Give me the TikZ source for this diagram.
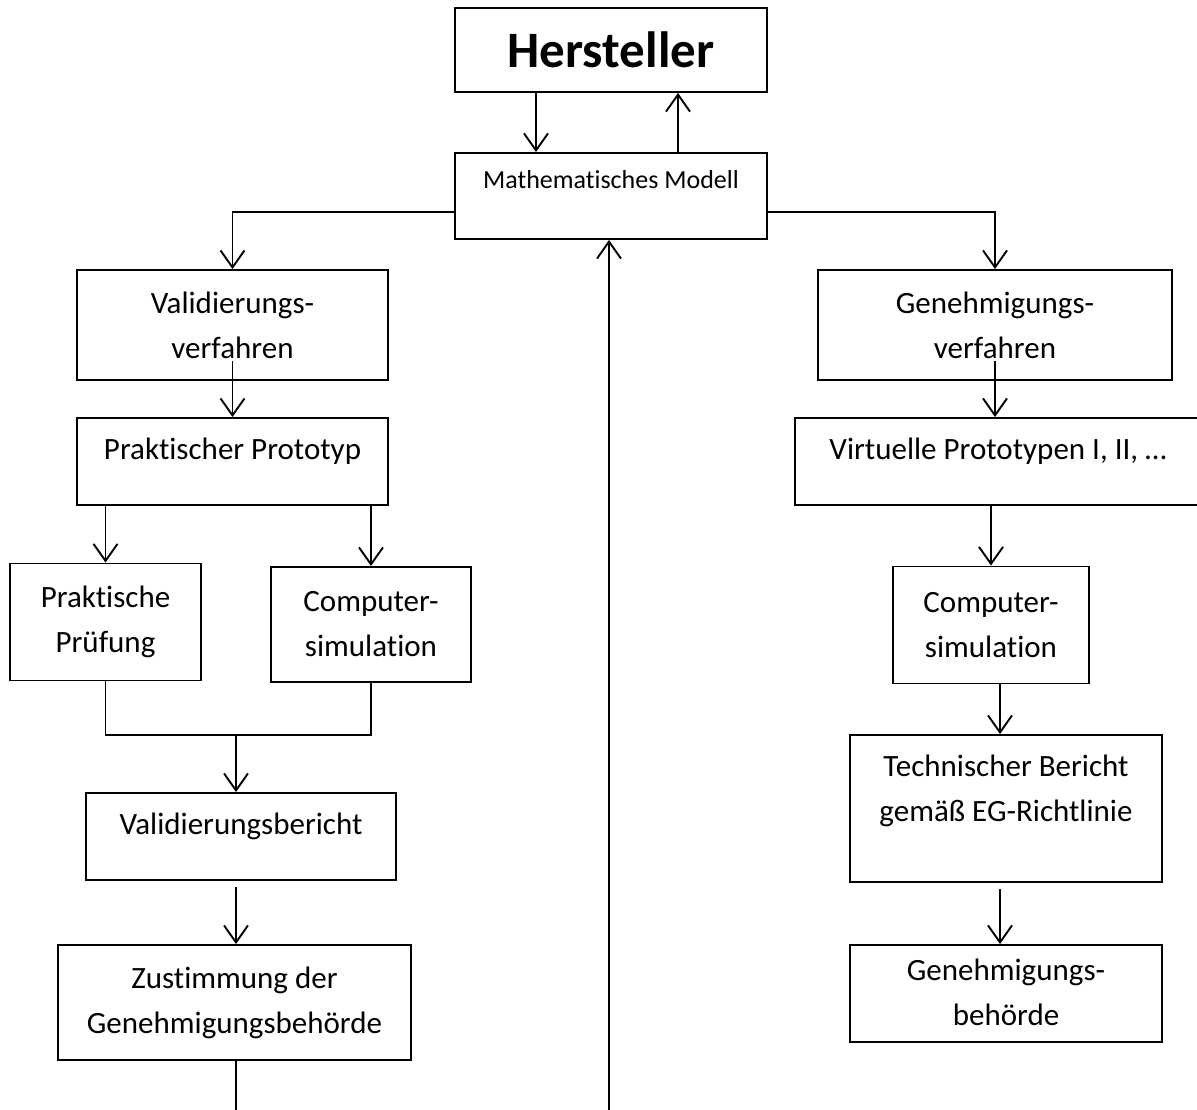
\documentclass[tikz,border=0pt]{standalone}
\usepackage{fontspec}
\setmainfont{Carlito}[Ligatures=NoCommon]
\usetikzlibrary{arrows.meta,positioning,calc}

\begin{document}
\begin{tikzpicture}[x=1pt,y=-1pt,line width=1.9pt,
  every node/.style={font=\fontsize{31}{45}\selectfont},
  blk/.style={draw,line width=1.9pt,align=center,inner sep=0pt},
  flow/.style={-{Straight Barb[length=17pt,width=24pt]}}]
\clip (0,0) rectangle (1197,1110);
\node[blk,minimum width=312,minimum height=84,font=\fontsize{51}{60}\selectfont\bfseries] (herst) at (611,50) {Hersteller};
\node[blk,minimum width=312,minimum height=86,text depth=33,font=\fontsize{26}{32}\selectfont] (model) at (611,196) {Mathematisches Modell};
\node[blk,minimum width=311,minimum height=110] (valid) at (232.5,325) {Validierungs-\\verfahren};
\node[blk,minimum width=311,minimum height=87,text depth=25] (proto) at (232.5,461.5) {Praktischer Prototyp};
\node[blk,minimum width=191,minimum height=117] (pruef) at (105.5,622) {Praktische\\Prüfung};
\node[blk,minimum width=200,minimum height=115] (csimL) at (371,624.5) {Computer-\\simulation};
\node[blk,minimum width=310,minimum height=87,text depth=25] (vber) at (241,836.5) {Validierungsbericht};
\node[blk,minimum width=353,minimum height=115] (zust) at (234.5,1002.5) {Zustimmung der\\Genehmigungsbehörde};
\node[blk,minimum width=354,minimum height=110] (genv) at (995,325) {Genehmigungs-\\verfahren};
\node[blk,minimum width=406,minimum height=87,text depth=25] (virt) at (998,461.5) {Virtuelle Prototypen I, II, …};
\node[blk,minimum width=196,minimum height=117] (csimR) at (991,625) {Computer-\\simulation};
\node[blk,minimum width=312,minimum height=147,text depth=40] (tech) at (1006,808.5) {Technischer Bericht\\gemäß EG-Richtlinie};
\node[blk,minimum width=312,minimum height=97,text depth=2] (gbeh) at (1006,993.5) {Genehmigungs-\\behörde};
\coordinate (join) at (236,735);
\coordinate (out) at (236,1110);
\coordinate (back) at (609,1110);
% top
\draw[flow] ([xshift=-75pt]herst.south) -- ([xshift=-75pt]model.north);
\draw[flow] ([xshift=67pt]model.north) -- ([xshift=67pt]herst.south);
\draw[flow] ([yshift=-16pt]model.west) -| (valid.north);
\draw[flow] ([yshift=-16pt]model.east) -| (genv.north);
\draw[flow] (back) -- (back |- model.south);
% left branch
\draw[flow] ($(valid.south)+(0,-20)$) -- (proto.north);
\draw[flow] (pruef.north |- proto.south) -- (pruef.north);
\draw[flow] (csimL.north |- proto.south) -- (csimL.north);
\draw (pruef.south) |- (join) -| (csimL.south);
\draw[flow] (join) -- (join |- vber.north);
\draw[flow] ($(join |- vber.south)+(0,6)$) -- (join |- zust.north);
\draw (join |- zust.south) -- (out);
% right branch
\draw[flow] ($(genv.south)+(0,-20)$) -- (genv.south |- virt.north);
\draw[flow] (csimR.north |- virt.south) -- (csimR.north);
\draw[flow] ($(csimR.south)+(9,0)$) -- ($(tech.north)+(-6,0)$);
\draw[flow] ($(tech.south)+(-6,6)$) -- ($(gbeh.north)+(-6,0)$);
\end{tikzpicture}
\end{document}
